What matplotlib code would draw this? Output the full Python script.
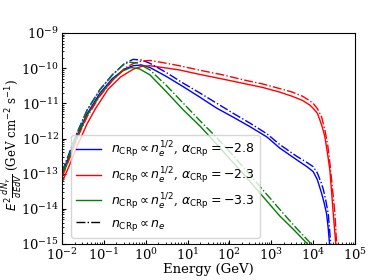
import matplotlib
matplotlib.use("Agg")
import matplotlib.pyplot as plt
import numpy as np

plt.rcParams['font.family'] = ['DejaVu Serif']
plt.rcParams['mathtext.fontset'] = 'dejavusans'

# log10(E/GeV), log10(flux)
bs_logE = [-2.0, -1.8, -1.65, -1.4, -1.1, -0.8, -0.5, -0.3, -0.1, 0.1, 0.5, 0.9, 1.3, 1.7, 2.1, 2.5, 2.9, 3.2, 3.6, 3.85, 4.0, 4.1, 4.2, 4.26, 4.32, 4.36, 4.39, 4.42]
bs_logF = [-13.0, -12.42, -11.95, -11.3, -10.72, -10.3, -10.02, -9.93, -9.91, -9.98, -10.24, -10.53, -10.83, -11.14, -11.4, -11.67, -11.96, -12.27, -12.6, -12.8, -12.94, -13.17, -13.55, -13.82, -14.13, -14.55, -14.98, -16.0]

bd_logE = [-2.0, -1.8, -1.65, -1.4, -1.1, -0.8, -0.5, -0.3, -0.1, 0.1, 0.5, 0.9, 1.3, 1.7, 2.1, 2.5, 2.9, 3.2, 3.6, 3.85, 4.0, 4.1, 4.2, 4.25, 4.3, 4.36, 4.42, 4.46]
bd_logF = [-12.95, -12.33, -11.86, -11.19, -10.62, -10.19, -9.86, -9.75, -9.77, -9.86, -10.13, -10.43, -10.71, -11.0, -11.29, -11.57, -11.87, -12.17, -12.5, -12.68, -12.8, -12.98, -13.28, -13.48, -13.75, -14.13, -14.98, -16.0]

rs_logE = [-2.0, -1.8, -1.65, -1.4, -1.2, -0.9, -0.6, -0.3, -0.1, 0.1, 0.4, 0.8, 1.3, 1.8, 2.4, 2.8, 3.2, 3.5, 3.75, 3.92, 4.0, 4.1, 4.16, 4.22, 4.28, 4.34, 4.4, 4.44, 4.48, 4.54, 4.58]
rs_logF = [-13.25, -12.7, -12.25, -11.58, -11.15, -10.6, -10.25, -10.03, -9.95, -9.93, -9.98, -10.05, -10.18, -10.3, -10.45, -10.55, -10.68, -10.8, -10.92, -11.05, -11.14, -11.28, -11.47, -11.68, -11.95, -12.4, -12.9, -13.5, -14.13, -14.98, -16.0]

rd_logE = [-2.0, -1.8, -1.65, -1.4, -1.1, -0.8, -0.5, -0.3, -0.1, 0.1, 0.4, 0.8, 1.3, 1.8, 2.4, 2.8, 3.2, 3.5, 3.75, 3.92, 4.0, 4.1, 4.2, 4.28, 4.35, 4.4, 4.46, 4.52, 4.56, 4.6]
rd_logF = [-13.1, -12.5, -12.02, -11.38, -10.8, -10.35, -10.0, -9.87, -9.8, -9.78, -9.84, -9.93, -10.06, -10.18, -10.35, -10.45, -10.58, -10.68, -10.8, -10.93, -11.0, -11.15, -11.38, -11.76, -12.2, -12.7, -13.4, -14.13, -14.98, -16.0]

gs_logE = [-2.0, -1.8, -1.65, -1.4, -1.1, -0.8, -0.55, -0.35, -0.15, 0.1, 0.5, 0.9, 1.3, 1.6, 2.0, 2.4, 2.8, 3.2, 3.5, 3.85, 4.1]
gs_logF = [-13.08, -12.5, -12.0, -11.35, -10.78, -10.35, -10.08, -9.98, -10.02, -10.19, -10.68, -11.19, -11.65, -12.04, -12.57, -13.1, -13.65, -14.2, -14.55, -14.98, -15.4]

gd_logE = [-2.0, -1.8, -1.65, -1.4, -1.1, -0.8, -0.55, -0.4, -0.2, 0.1, 0.5, 0.9, 1.3, 1.7, 2.1, 2.5, 2.9, 3.3, 3.6, 3.94, 4.2]
gd_logF = [-12.98, -12.38, -11.88, -11.2, -10.62, -10.2, -9.92, -9.83, -9.85, -10.05, -10.5, -11.0, -11.5, -11.98, -12.5, -13.05, -13.6, -14.15, -14.55, -14.98, -15.4]

labels = [r'$n_{\rm CRp} \propto n_e^{1/2}$, $\alpha_{\rm CRp} = -2.8$',
          r'$n_{\rm CRp} \propto n_e^{1/2}$, $\alpha_{\rm CRp} = -2.3$',
          r'$n_{\rm CRp} \propto n_e^{1/2}$, $\alpha_{\rm CRp} = -3.3$',
          r'$n_{\rm CRp} \propto n_e$']

fig = plt.figure(figsize=(3.74, 2.80), dpi=100)
ax = fig.add_axes([62/374, 1-244/280, (355-62)/374, (244-33)/280])

def p(x):
    return 10 ** np.asarray(x)

lw = 1.0
ax.plot(p(bs_logE), p(bs_logF), color='blue', lw=lw, label=labels[0])
ax.plot(p(rs_logE), p(rs_logF), color='red', lw=lw, label=labels[1])
ax.plot(p(gs_logE), p(gs_logF), color='green', lw=lw, label=labels[2])
ax.plot(p(bd_logE), p(bd_logF), color='blue', lw=lw, ls='-.')
ax.plot(p(rd_logE), p(rd_logF), color='red', lw=lw, ls='-.')
ax.plot(p(gd_logE), p(gd_logF), color='green', lw=lw, ls='-.')
ax.plot([], [], color='black', lw=lw, ls='-.', label=labels[3])

ax.set_xscale('log')
ax.set_yscale('log')
ax.set_xlim(1e-2, 1e5)
ax.set_ylim(1e-15, 1e-9)
ax.set_xticks([10.0**k for k in range(-2, 6)])
ax.set_yticks([10.0**k for k in range(-15, -8)])
ax.tick_params(which='both', direction='in', labelsize=9.5, pad=2)
ax.tick_params(which='major', length=3)
ax.tick_params(which='minor', length=1.5)
ax.set_xlabel('Energy (GeV)', fontsize=9.5, labelpad=0)
ax.set_ylabel(r'$E^2\frac{dN_\gamma}{dEdV}$ (GeV cm$^{-2}$ s$^{-1}$)', fontsize=8.5)
ax.yaxis.set_label_coords((24 - 62) / 293, 0.47)
ax.legend(loc='lower left', fontsize=9, labelspacing=0.4, bbox_to_anchor=(0.01, 0.0))

fig.savefig('out.png', dpi=100)
